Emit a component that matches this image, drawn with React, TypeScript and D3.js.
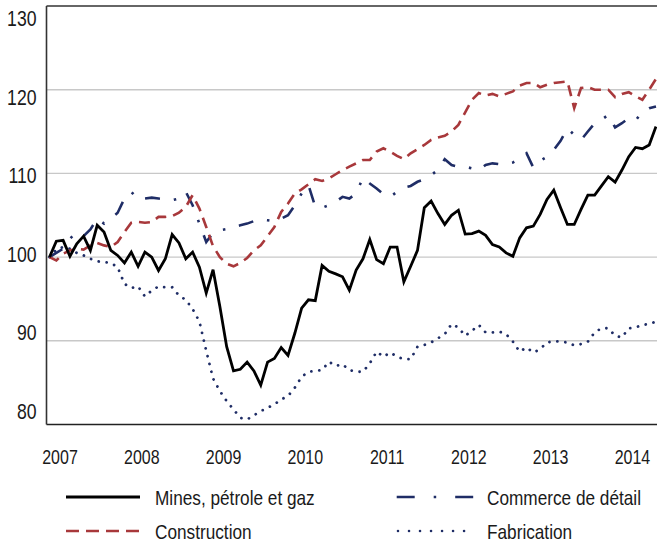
import React from "react";
import * as d3 from "d3";

const years = ["2007", "2008", "2009", "2010", "2011", "2012", "2013", "2014"];
const yTickLabels = [130, 120, 110, 100, 90, 80];
const gridValues = [90, 100, 110, 120];

const mines = [
  100.0, 101.9, 102.0, 100.1, 101.6, 102.5, 100.8, 103.8, 103.0, 100.8, 100.2, 99.3,
  100.6, 98.9, 100.6, 100.0, 98.4, 99.8, 102.7, 101.7, 99.8, 100.6, 98.8, 95.7,
  98.5, 94.1, 89.3, 86.4, 86.6, 87.45, 86.4, 84.7, 87.45, 87.9, 89.2, 88.25,
  90.9, 93.9, 94.9, 94.8, 99.0, 98.3, 98.0, 97.65, 96.06, 98.45, 99.8, 102.1,
  99.7, 99.2, 101.2, 101.2, 97.05, 98.9, 100.8, 105.9, 106.7, 105.2, 103.9, 105.0,
  105.6, 102.75, 102.8, 103.1, 102.6, 101.5, 101.2, 100.5, 100.1, 102.3, 103.5, 103.7,
  105.1, 106.9, 108.0, 105.9, 103.9, 103.9, 105.7, 107.4, 107.4, 108.5, 109.6, 108.96,
  110.4, 112.0, 113.1, 112.95, 113.4, 115.6,
];

const construction = [
  100.0, 99.6, 100.4, 100.8, 101.0, 100.9, 101.4, 101.7, 101.4, 101.2, 101.8, 103.0,
  104.1, 104.2, 104.1, 104.2, 104.8, 104.8, 104.9, 105.3, 106.0, 107.4, 105.8, 103.6,
  101.3, 100.0, 99.2, 98.9, 99.3, 99.9, 100.8, 101.4, 102.5, 103.6, 105.4, 106.4,
  107.6, 108.1, 108.7, 109.3, 109.1, 109.4, 109.9, 110.4, 110.8, 111.2, 111.6, 111.6,
  112.6, 113.0, 112.6, 112.1, 111.7, 112.4, 112.9, 113.4, 114.0, 114.3, 114.5, 115.0,
  115.8, 117.3, 118.8, 119.6, 119.3, 119.5, 119.2, 119.5, 119.8, 120.5, 120.8, 120.8,
  120.3, 120.6, 120.8, 120.9, 121.0, 117.8, 120.2, 120.3, 120.0, 120.0, 120.0, 119.1,
  119.5, 119.7, 119.2, 118.8, 120.0, 121.3,
];

const commerce = [
  100.0, 100.5, 101.0, 102.2, 103.0, 102.5, 103.3, 104.6, 104.0, 104.6, 105.3, 107.0,
  107.8, 106.9, 107.0, 107.1, 107.0, 106.9, 106.8, 107.0, 107.8, 106.2, 104.0, 101.8,
  102.9, 103.2, 103.35, 103.6, 103.8, 104.0, 104.3, 104.5, 104.4, 104.3, 104.6, 105.0,
  106.2, 107.6, 108.6, 106.0, 105.9, 106.2, 106.6, 107.2, 107.0, 107.6, 109.5, 108.8,
  108.2, 107.5, 107.2, 107.8, 108.3, 108.5, 109.0, 109.3, 109.8, 110.4, 111.7, 111.0,
  110.8, 110.8, 110.6, 110.4, 111.0, 111.2, 111.1, 111.1, 111.3, 111.8, 112.4, 110.7,
  111.5, 112.0, 112.8, 113.9, 115.4, 114.6, 114.0, 115.0, 116.0, 116.4, 117.0, 115.5,
  116.0, 116.6, 116.3, 117.4, 117.8, 118.0,
];

const fabrication = [
  100.0, 100.9, 101.2, 101.0, 100.5, 100.2, 99.8, 99.5, 99.4, 99.3, 98.8, 96.8,
  96.3, 96.5, 95.3, 96.0, 96.5, 96.4, 96.4, 95.4, 94.9, 93.8, 92.3, 88.8,
  85.5, 84.0, 82.8, 81.8, 80.8, 80.6, 81.1, 81.6, 82.0, 82.4, 83.0, 83.4,
  84.4, 85.7, 86.3, 86.4, 86.5, 87.5, 87.0, 87.2, 86.5, 86.3, 86.3, 87.3,
  88.7, 88.1, 88.6, 88.1, 87.8, 87.8, 89.3, 89.5, 89.8, 90.3, 90.8, 92.0,
  91.6, 90.6, 91.2, 91.9, 91.0, 91.0, 91.1, 90.8, 89.9, 88.7, 89.2, 88.6,
  89.0, 89.8, 89.95, 89.9, 89.8, 89.45, 89.6, 89.9, 91.0, 91.5, 91.5, 90.6,
  90.4, 91.5, 91.6, 91.9, 92.0, 92.3,
];

const legendLabels = ["Mines, pétrole et gaz", "Commerce de détail", "Construction", "Fabrication"];

const RED = "#a8383b";
const NAVY = "#1f2d66";
const FONT = "'Liberation Sans', Arial, sans-serif";
const SX = 0.82; // condensed look of the original narrow typeface

function NText(props: {
  x: number;
  y: number;
  size: number;
  anchor?: "start" | "middle" | "end";
  children: React.ReactNode;
}) {
  return (
    <g transform={`translate(${props.x},${props.y}) scale(${SX},1)`}>
      <text x={0} y={0} fontSize={props.size} textAnchor={props.anchor || "start"} fill="#1a1a1a">
        {props.children}
      </text>
    </g>
  );
}

export default function App() {
  const W = 657;
  const H = 543;
  const x = d3.scaleLinear().domain([0, mines.length - 1]).range([49.5, 656]);
  const y = d3.scaleLinear().domain([80, 130]).range([424.5, 6]);
  // label positions of the original are spaced independently of the grid
  const yLab = d3.scaleLinear().domain([130, 80]).range([26, 418.5]);

  const line = d3
    .line<number>()
    .x((_, i) => x(i))
    .y((d) => y(d));

  return (
    <svg
      width={W}
      height={H}
      style={{ position: "fixed", left: 0, top: 0, background: "#fff" }}
      fontFamily={FONT}
    >
      <rect x={0} y={0} width={W} height={H} fill="#fff" />
      {gridValues.map((v) => (
        <line key={v} x1={46.5} x2={W} y1={y(v)} y2={y(v)} stroke="#c8c8c8" strokeWidth={1.4} />
      ))}
      {/* frame */}
      <line x1={46.5} x2={W} y1={6} y2={6} stroke="#333" strokeWidth={1.6} />
      <line x1={46.5} x2={W} y1={424.5} y2={424.5} stroke="#222" strokeWidth={1.6} />
      <line x1={46.5} x2={46.5} y1={6} y2={424.5} stroke="#333" strokeWidth={1.6} />

      {yTickLabels.map((v) => (
        <NText key={v} x={36.5} y={yLab(v)} size={21.5} anchor="end">
          {v}
        </NText>
      ))}
      {years.map((yr, k) => (
        <NText key={yr} x={x(k * 12) + 10.5} y={464.3} size={19.5} anchor="middle">
          {yr}
        </NText>
      ))}

      <path
        d={line(fabrication) || ""}
        fill="none"
        stroke={NAVY}
        strokeWidth={2.8}
        strokeLinecap="round"
        strokeDasharray="0.01 8"
      />
      <path
        d={line(commerce) || ""}
        fill="none"
        stroke={NAVY}
        strokeWidth={2.6}
        strokeDasharray="15 14 2.5 14"
      />
      <path
        d={line(construction) || ""}
        fill="none"
        stroke={RED}
        strokeWidth={2.6}
        strokeDasharray="11 7"
      />
      <path d={line(mines) || ""} fill="none" stroke="#000" strokeWidth={2.8} />

      {/* legend */}
      <line x1={66} x2={140} y1={497} y2={497} stroke="#000" strokeWidth={2.8} />
      <NText x={155} y={505} size={21}>
        {legendLabels[0]}
      </NText>
      <line
        x1={396.7}
        x2={474.5}
        y1={497}
        y2={497}
        stroke={NAVY}
        strokeWidth={2.6}
        strokeDasharray="18 19 2.5 19"
      />
      <NText x={487} y={505} size={21}>
        {legendLabels[1]}
      </NText>
      <line
        x1={66}
        x2={140}
        y1={531}
        y2={531}
        stroke={RED}
        strokeWidth={2.6}
        strokeDasharray="13 7"
      />
      <NText x={155} y={538.5} size={21}>
        {legendLabels[2]}
      </NText>
      <line
        x1={398}
        x2={475}
        y1={531}
        y2={531}
        stroke={NAVY}
        strokeWidth={2.6}
        strokeLinecap="round"
        strokeDasharray="0.01 11"
      />
      <NText x={487} y={538.5} size={21}>
        {legendLabels[3]}
      </NText>
    </svg>
  );
}
